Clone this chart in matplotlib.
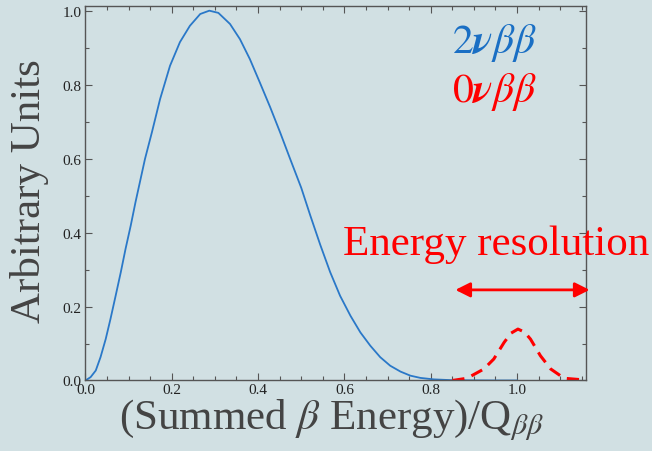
import matplotlib
matplotlib.use('Agg')
import matplotlib.pyplot as plt
from matplotlib.ticker import MultipleLocator

plt.rcParams['mathtext.fontset'] = 'stix'
plt.rcParams['font.family'] = 'Liberation Serif'

bg = '#d1e0e3'

# 2nu beta beta spectrum
x2 = [0.0, 0.012, 0.024, 0.035, 0.047, 0.058, 0.070, 0.082, 0.093, 0.105,
      0.116, 0.138, 0.154, 0.173, 0.196, 0.219, 0.242, 0.266, 0.287,
      0.308, 0.335, 0.358, 0.381, 0.404, 0.428, 0.451, 0.474, 0.500, 0.521,
      0.544, 0.567, 0.590, 0.614, 0.637, 0.660, 0.683, 0.706, 0.730, 0.753,
      0.776, 0.807, 0.846, 0.90, 0.95, 1.0]
y2 = [0.0, 0.009, 0.027, 0.063, 0.112, 0.166, 0.229, 0.293, 0.356, 0.419,
      0.482, 0.599, 0.671, 0.761, 0.851, 0.915, 0.959, 0.991, 1.0,
      0.994, 0.964, 0.923, 0.869, 0.806, 0.739, 0.671, 0.600, 0.521, 0.446,
      0.367, 0.293, 0.229, 0.175, 0.130, 0.094, 0.063, 0.040, 0.024, 0.013,
      0.007, 0.003, 0.001, 0.0003, 0.0, 0.0]

# 0nu beta beta peak
x0 = [0.850, 0.884, 0.923, 0.946, 0.970, 0.986, 1.002, 1.017, 1.031, 1.054,
      1.078, 1.109, 1.150]
y0 = [0.0, 0.006, 0.031, 0.058, 0.103, 0.128, 0.139, 0.131, 0.112, 0.067,
      0.031, 0.006, 0.002]

fig = plt.figure(figsize=(6.52, 4.52), dpi=100, facecolor=bg)
ax = fig.add_axes([0.131, 0.156, 0.768, 0.828], facecolor=bg)

ax.plot(x2, y2, color='#2a78c8', lw=1.3)
ax.plot(x0, y0, color='red', lw=2.2, ls=(0, (4, 2.5)))

ax.set_xlim(0, 1.16)
ax.set_ylim(0, 1.012)
ax.xaxis.set_major_locator(MultipleLocator(0.2))
ax.xaxis.set_minor_locator(MultipleLocator(0.05))
ax.yaxis.set_major_locator(MultipleLocator(0.2))
ax.yaxis.set_minor_locator(MultipleLocator(0.1))
ax.tick_params(which='both', direction='in', top=True, right=True,
               color='#555555', labelsize=11, labelcolor='#222222')
ax.tick_params(which='major', length=5, width=0.8)
ax.tick_params(which='minor', length=3, width=0.8)
ax.tick_params(axis='x', pad=2)
ax.tick_params(axis='y', pad=3)
for s in ax.spines.values():
    s.set_color('#555555')
    s.set_linewidth(1.0)

# resolution arrow
ax.annotate('', xy=(0.857, 0.245), xytext=(1.168, 0.245),
            arrowprops=dict(arrowstyle='<|-|>', color='red', lw=2,
                            mutation_scale=22, shrinkA=0, shrinkB=0),
            annotation_clip=False)
ax.text(0.597, 0.342, 'Energy resolution', color='red', fontsize=31,
        va='baseline', ha='left', clip_on=False)

ax.text(0.850, 0.888, r'$2\boldsymbol{\nu}\beta\beta$', color='#1a6fc4',
        fontsize=30, va='baseline')
ax.text(0.850, 0.755, r'$0\boldsymbol{\nu}\beta\beta$', color='red',
        fontsize=30, va='baseline')

fig.text(0.508, 0.071, r'(Summed $\beta$ Energy)/Q$_{\beta\beta}$',
         ha='center', va='center', fontsize=31, color='#444444')
fig.text(0.046, 0.577, 'Arbitrary Units', rotation=90, ha='center',
         va='center', fontsize=31, color='#444444')

fig.savefig('out.png', dpi=100, facecolor=bg)
